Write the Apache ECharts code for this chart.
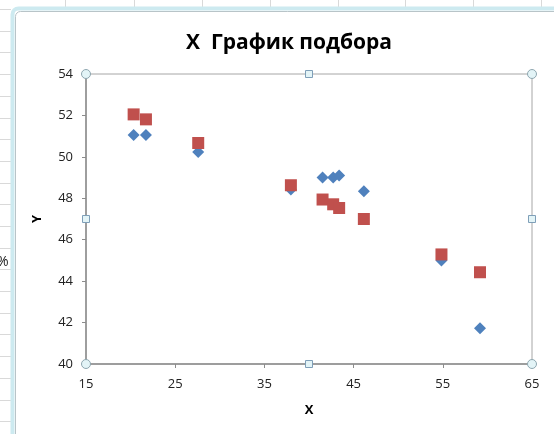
<!DOCTYPE html>
<html>
<head>
<meta charset="utf-8">
<script src="https://cdn.jsdelivr.net/npm/echarts@6/dist/echarts.min.js"></script>
<style>
  html, body { margin: 0; padding: 0; background: #ffffff; }
  #chart { width: 554px; height: 434px; }
</style>
</head>
<body>
<div id="chart"></div>
<script>
// Measured X values shared by both series
const xValues = [20.34, 21.72, 27.58, 37.97, 41.52, 42.71, 43.38, 46.15, 54.85, 59.17];
// Observed Y (blue diamonds)
const yObserved = [51.06, 51.06, 50.24, 48.43, 49.0, 49.0, 49.1, 48.34, 45.0, 41.72];
// Fitted Y (red squares)
const yFitted = [52.05, 51.81, 50.67, 48.63, 47.94, 47.71, 47.53, 47.0, 45.29, 44.43];

const xMin = 15, xMax = 65, xStep = 10;
const yMin = 40, yMax = 54, yStep = 2;

const titleText = 'X  График подбора';
const xName = 'X';
const yName = 'Y';

const pairs = (xs, ys) => xs.map((x, i) => [x, ys[i]]);

const G = { left: 86, top: 74, width: 446, height: 290 };
const font = '"Open Sans", "DejaVu Sans", sans-serif';

// Spreadsheet background: grid lines peeking around the chart frame
const sheet = [];
for (let y = 9; y < 434; y += 21.7) {
  sheet.push({ type: 'line', shape: { x1: 0, y1: Math.round(y) + 0.5, x2: 11, y2: Math.round(y) + 0.5 },
    style: { stroke: '#d9d9d9', lineWidth: 1 }, silent: true, z: 0 });
}
[65, 134, 202, 270, 338, 405, 473, 541].forEach(x => {
  sheet.push({ type: 'line', shape: { x1: x + 0.5, y1: 0, x2: x + 0.5, y2: 7 },
    style: { stroke: '#d9d9d9', lineWidth: 1 }, silent: true, z: 0 });
});
sheet.push({ type: 'text', left: -3, top: 255, style: { text: '%', font: '14px ' + font, fill: '#222' }, z: 0 });

// Chart frame (selected chart object)
const frame = [
  { type: 'rect', shape: { x: 12.5, y: 8.5, width: 560, height: 440, r: 6 },
    style: { fill: 'none', stroke: '#cdeaf0', lineWidth: 4 }, silent: true, z: 1 },
  { type: 'rect', shape: { x: 15.5, y: 11.5, width: 560, height: 440, r: 5 },
    style: { fill: 'none', stroke: '#b8c4c8', lineWidth: 1 }, silent: true, z: 1 }
];

// Plot-area selection handles at corners and edge midpoints
const handles = [];
const gx = [G.left, G.left + G.width / 2, G.left + G.width];
const gy = [G.top, G.top + G.height / 2, G.top + G.height];
for (let i = 0; i < 3; i++) {
  for (let j = 0; j < 3; j++) {
    if (i === 1 && j === 1) continue;
    const corner = i !== 1 && j !== 1;
    handles.push(corner
      ? { type: 'circle', shape: { cx: gx[i], cy: gy[j], r: 4.5 },
          style: { fill: '#e3f4f7', stroke: '#8fa7b0', lineWidth: 1 }, z: 10, silent: true }
      : { type: 'rect', shape: { x: gx[i] - 3.5, y: gy[j] - 3.5, width: 7, height: 7 },
          style: { fill: '#e3f4f7', stroke: '#7f9fb8', lineWidth: 1 }, z: 10, silent: true });
  }
}

const chart = echarts.init(document.getElementById('chart'), null, { renderer: 'canvas' });
chart.setOption({
  animation: false,
  backgroundColor: '#ffffff',
  title: {
    text: titleText,
    left: 284, top: 28, textAlign: 'center',
    textStyle: { fontFamily: font, fontSize: 21, fontWeight: 'bold', color: '#000' }
  },
  grid: {
    left: G.left, top: G.top, width: G.width, height: G.height,
    show: true, borderColor: '#a6a6a6', borderWidth: 1, backgroundColor: 'transparent'
  },
  xAxis: {
    type: 'value', min: xMin, max: xMax, interval: xStep,
    name: xName, nameLocation: 'middle', nameGap: 40,
    nameTextStyle: { fontFamily: font, fontSize: 13, fontWeight: 'bold', color: '#000' },
    axisLine: { show: true, onZero: false, lineStyle: { color: '#8c8c8c', width: 1.5 } },
    axisTick: { show: true, length: 4, lineStyle: { color: '#8c8c8c' } },
    axisLabel: { margin: 14, fontFamily: font, fontSize: 13, color: '#222' },
    splitLine: { show: false }
  },
  yAxis: {
    type: 'value', min: yMin, max: yMax, interval: yStep,
    name: yName, nameLocation: 'middle', nameGap: 42, nameRotate: 90,
    nameTextStyle: { fontFamily: font, fontSize: 13, fontWeight: 'bold', color: '#000' },
    axisLine: { show: true, onZero: false, lineStyle: { color: '#8c8c8c', width: 1.5 } },
    axisTick: { show: true, length: 4, lineStyle: { color: '#8c8c8c' } },
    axisLabel: { margin: 13, fontFamily: font, fontSize: 13, color: '#222' },
    splitLine: { show: false }
  },
  series: [
    {
      name: 'Y', type: 'scatter', symbol: 'diamond', symbolSize: 12,
      itemStyle: { color: '#4f81bd', opacity: 1 }, z: 2,
      data: pairs(xValues, yObserved)
    },
    {
      name: 'Predicted Y', type: 'scatter', symbol: 'rect', symbolSize: 12,
      itemStyle: { color: '#c0504d', opacity: 1 }, z: 3,
      data: pairs(xValues, yFitted)
    }
  ],
  graphic: { elements: sheet.concat(frame, handles) }
});
</script>
</body>
</html>
